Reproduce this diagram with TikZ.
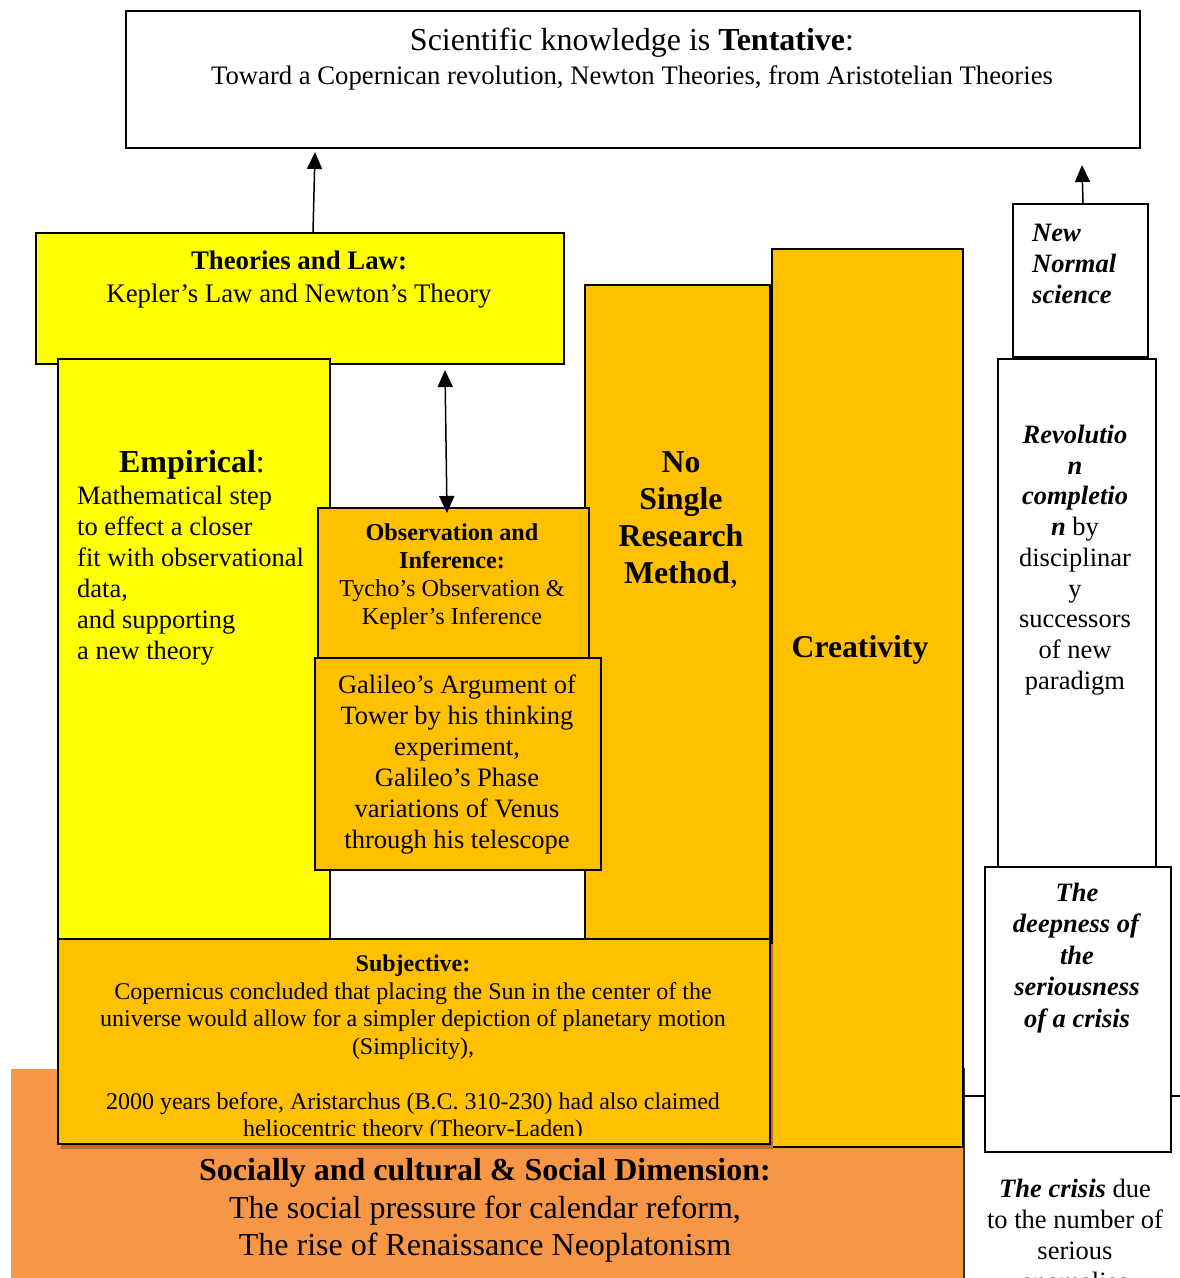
\documentclass[tikz,border=0pt]{standalone}
\usepackage{fontspec}
\setmainfont{Liberation Serif}
\usetikzlibrary{arrows.meta,shadows}
\definecolor{yel}{HTML}{FFFF00}
\definecolor{amber}{HTML}{FFC000}
\definecolor{tang}{HTML}{F79646}
\definecolor{rust}{HTML}{C0692E}
\newcommand{\setfs}[2]{\fontsize{#1}{#2}\selectfont}
\tikzset{
  panel/.style={draw=black, line width=2pt, anchor=north west, inner sep=0pt},
  lbl/.style={align=center, inner sep=0pt},
  arr/.style={line width=1.5pt, -{Triangle[length=17pt,width=15pt]}},
  biarr/.style={line width=1.5pt, {Triangle[length=17pt,width=15pt]}-{Triangle[length=17pt,width=15pt]}},
  body/.style={font=\setfs{26.5}{31}},
}
\begin{document}
\begin{tikzpicture}[x=1pt,y=-1pt]
\clip (0,0) rectangle (1180,1278);
\fill[white] (0,0) rectangle (1180,1278);
% top box
\node[panel, fill=white, minimum width=1014pt, minimum height=137pt] (tent) at (125,10) {};
\node[lbl, font=\setfs{32}{36}] (tenttitle) at (632,43) {Scientific knowledge is \textbf{Tentative}:};
\node[lbl, font=\setfs{26.7}{30}] (tentsub) at (632,78) {Toward a Copernican revolution, Newton Theories, from Aristotelian Theories};
% social base
\node[panel, draw=none, fill=tang, minimum width=952pt, minimum height=230pt] (social) at (10,1068) {};
\draw[line width=1.5pt, black!80] (social.north east) -- (social.south east);
\node[lbl, font=\setfs{32}{37.5}] (socialtxt) at (485,1210.5) {\textbf{Socially and cultural \& Social Dimension:}\\The social pressure for calendar reform,\\The rise of Renaissance Neoplatonism};
% left column
\node[panel, fill=yel, minimum width=528pt, minimum height=131pt] (theory) at (35,232) {};
\node[lbl, font=\setfs{26.8}{33}] (theorytxt) at (299,279.5) {\textbf{Theories and Law:}\\Kepler’s Law and Newton’s Theory};
\node[panel, fill=yel, minimum width=272pt, minimum height=582pt] (empir) at (57,358) {};
\node[lbl, font=\setfs{32}{36}] (empirhead) at (192,465) {\textbf{Empirical}:};
\node[lbl, body, align=left, anchor=west] (empirtxt) at (77,575.5) {Mathematical step\\to effect a closer\\fit with observational\\data,\\and supporting\\a new theory};
\node[panel, fill=amber, minimum width=185pt, minimum height=656pt] (nosingle) at (584,284) {};
\node[lbl, font=\setfs{31.8}{36.7}] (nosingletxt) at (681,520) {\textbf{No}\\\textbf{Single}\\\textbf{Research}\\\textbf{Method},};
\node[panel, fill=amber, minimum width=191pt, minimum height=898pt] (creat) at (771,248) {};
\node[lbl, font=\setfs{31.7}{36}] (creattxt) at (860,650) {\textbf{Creativity}};
\node[panel, fill=amber, minimum width=271pt, minimum height=150pt] (obs) at (317,507) {};
\node[lbl, font=\setfs{24.2}{28}] (obstxt) at (452,576.5) {\textbf{Observation and}\\\textbf{Inference:}\\Tycho’s Observation \&\\Kepler’s Inference};
\node[panel, fill=amber, minimum width=286pt, minimum height=212pt] (gal) at (314,657) {};
\node[lbl, body] (galtxt) at (457,764.5) {Galileo’s Argument of\\Tower by his thinking\\experiment,\\Galileo’s Phase\\variations of Venus\\through his telescope};
\node[panel, fill=amber, minimum width=712pt, minimum height=205pt, drop shadow={shadow xshift=3pt, shadow yshift=-5pt, fill=rust, opacity=1}] (subj) at (57,938) {};
\begin{scope}
\clip (subj.north west) rectangle ([yshift=10pt]subj.south east);
\node[lbl, font=\setfs{24}{27.5}] (subjtxt) at (413,1048.5) {\textbf{Subjective:}\\Copernicus concluded that placing the Sun in the center of the\\universe would allow for a simpler depiction of planetary motion\\(Simplicity),\\[27.5pt]2000 years before, Aristarchus (B.C. 310-230) had also claimed\\heliocentric theory (Theory-Laden)};
\end{scope}
% right column
\coordinate (rim) at (1180,1096);
\draw[line width=1.5pt] (creat.east |- rim) -- (rim);
\node[panel, fill=white, minimum width=135pt, minimum height=153pt] (newnorm) at (1012,203) {};
\node[lbl, body, align=left, anchor=west] (newnormtxt) at (1032,264) {\textbf{\textit{New}}\\\textbf{\textit{Normal}}\\\textbf{\textit{science}}};
\node[panel, fill=white, minimum width=158pt, minimum height=508pt] (revol) at (997,358) {};
\node[lbl, font=\setfs{26.5}{30.75}] (revoltxt) at (1075,560) {\textbf{\textit{Revolutio}}\\\textbf{\textit{n}}\\\textbf{\textit{completio}}\\\textbf{\textit{n}} by\\disciplinar\\y\\successors\\of new\\paradigm};
\node[panel, fill=white, minimum width=186pt, minimum height=285pt] (deep) at (984,866) {};
\node[lbl, font=\setfs{26.5}{31.5}] (deeptxt) at (1077,958) {\textbf{\textit{The}}\\\textbf{\textit{deepness of}}\\\textbf{\textit{the}}\\\textbf{\textit{seriousness}}\\\textbf{\textit{of a crisis}}};
\node[lbl, body] (crisistxt) at (1075,1235) {\textbf{\textit{The crisis}} due\\to the number of\\serious\\anomalies};
% arrows
\draw[arr] ([xshift=13pt]theory.north) -- ([xshift=-318pt,yshift=-3pt]tent.south);
\draw[biarr] ([xshift=145pt,yshift=-5pt]theory.south) -- ([xshift=-6.5pt,yshift=-6pt]obs.north);
\draw[arr] ([xshift=2.5pt]newnorm.north) -- ([xshift=449pt,yshift=-16pt]tent.south);
\end{tikzpicture}
\end{document}
